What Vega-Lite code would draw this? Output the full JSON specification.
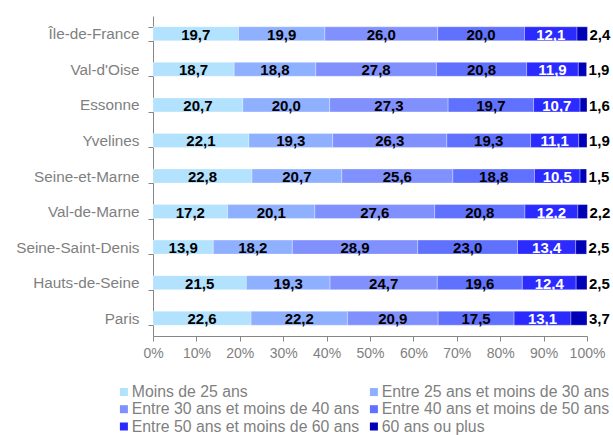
{
  "$schema": "https://vega.github.io/schema/vega-lite/v6.json",
  "width": 434,
  "height": 320,
  "autosize": "none",
  "padding": {"left": 153, "top": 16, "right": 26, "bottom": 99},
  "background": "white",
  "config": {
    "view": {"stroke": null},
    "font": "Liberation Sans",
    "locale": {"number": {"decimal": ",", "thousands": " ", "grouping": [3], "currency": ["", " €"]}}
  },
  "data": {
    "values": [
      {"r": "Île-de-France", "a": "Moins de 25 ans", "k": 1, "v": 19.7},
      {"r": "Île-de-France", "a": "Entre 25 ans et moins de 30 ans", "k": 2, "v": 19.9},
      {"r": "Île-de-France", "a": "Entre 30 ans et moins de 40 ans", "k": 3, "v": 26.0},
      {"r": "Île-de-France", "a": "Entre 40 ans et moins de 50 ans", "k": 4, "v": 20.0},
      {"r": "Île-de-France", "a": "Entre 50 ans et moins de 60 ans", "k": 5, "v": 12.1},
      {"r": "Île-de-France", "a": "60 ans ou plus", "k": 6, "v": 2.4},
      {"r": "Val-d'Oise", "a": "Moins de 25 ans", "k": 1, "v": 18.7},
      {"r": "Val-d'Oise", "a": "Entre 25 ans et moins de 30 ans", "k": 2, "v": 18.8},
      {"r": "Val-d'Oise", "a": "Entre 30 ans et moins de 40 ans", "k": 3, "v": 27.8},
      {"r": "Val-d'Oise", "a": "Entre 40 ans et moins de 50 ans", "k": 4, "v": 20.8},
      {"r": "Val-d'Oise", "a": "Entre 50 ans et moins de 60 ans", "k": 5, "v": 11.9},
      {"r": "Val-d'Oise", "a": "60 ans ou plus", "k": 6, "v": 1.9},
      {"r": "Essonne", "a": "Moins de 25 ans", "k": 1, "v": 20.7},
      {"r": "Essonne", "a": "Entre 25 ans et moins de 30 ans", "k": 2, "v": 20.0},
      {"r": "Essonne", "a": "Entre 30 ans et moins de 40 ans", "k": 3, "v": 27.3},
      {"r": "Essonne", "a": "Entre 40 ans et moins de 50 ans", "k": 4, "v": 19.7},
      {"r": "Essonne", "a": "Entre 50 ans et moins de 60 ans", "k": 5, "v": 10.7},
      {"r": "Essonne", "a": "60 ans ou plus", "k": 6, "v": 1.6},
      {"r": "Yvelines", "a": "Moins de 25 ans", "k": 1, "v": 22.1},
      {"r": "Yvelines", "a": "Entre 25 ans et moins de 30 ans", "k": 2, "v": 19.3},
      {"r": "Yvelines", "a": "Entre 30 ans et moins de 40 ans", "k": 3, "v": 26.3},
      {"r": "Yvelines", "a": "Entre 40 ans et moins de 50 ans", "k": 4, "v": 19.3},
      {"r": "Yvelines", "a": "Entre 50 ans et moins de 60 ans", "k": 5, "v": 11.1},
      {"r": "Yvelines", "a": "60 ans ou plus", "k": 6, "v": 1.9},
      {"r": "Seine-et-Marne", "a": "Moins de 25 ans", "k": 1, "v": 22.8},
      {"r": "Seine-et-Marne", "a": "Entre 25 ans et moins de 30 ans", "k": 2, "v": 20.7},
      {"r": "Seine-et-Marne", "a": "Entre 30 ans et moins de 40 ans", "k": 3, "v": 25.6},
      {"r": "Seine-et-Marne", "a": "Entre 40 ans et moins de 50 ans", "k": 4, "v": 18.8},
      {"r": "Seine-et-Marne", "a": "Entre 50 ans et moins de 60 ans", "k": 5, "v": 10.5},
      {"r": "Seine-et-Marne", "a": "60 ans ou plus", "k": 6, "v": 1.5},
      {"r": "Val-de-Marne", "a": "Moins de 25 ans", "k": 1, "v": 17.2},
      {"r": "Val-de-Marne", "a": "Entre 25 ans et moins de 30 ans", "k": 2, "v": 20.1},
      {"r": "Val-de-Marne", "a": "Entre 30 ans et moins de 40 ans", "k": 3, "v": 27.6},
      {"r": "Val-de-Marne", "a": "Entre 40 ans et moins de 50 ans", "k": 4, "v": 20.8},
      {"r": "Val-de-Marne", "a": "Entre 50 ans et moins de 60 ans", "k": 5, "v": 12.2},
      {"r": "Val-de-Marne", "a": "60 ans ou plus", "k": 6, "v": 2.2},
      {"r": "Seine-Saint-Denis", "a": "Moins de 25 ans", "k": 1, "v": 13.9},
      {"r": "Seine-Saint-Denis", "a": "Entre 25 ans et moins de 30 ans", "k": 2, "v": 18.2},
      {"r": "Seine-Saint-Denis", "a": "Entre 30 ans et moins de 40 ans", "k": 3, "v": 28.9},
      {"r": "Seine-Saint-Denis", "a": "Entre 40 ans et moins de 50 ans", "k": 4, "v": 23.0},
      {"r": "Seine-Saint-Denis", "a": "Entre 50 ans et moins de 60 ans", "k": 5, "v": 13.4},
      {"r": "Seine-Saint-Denis", "a": "60 ans ou plus", "k": 6, "v": 2.5},
      {"r": "Hauts-de-Seine", "a": "Moins de 25 ans", "k": 1, "v": 21.5},
      {"r": "Hauts-de-Seine", "a": "Entre 25 ans et moins de 30 ans", "k": 2, "v": 19.3},
      {"r": "Hauts-de-Seine", "a": "Entre 30 ans et moins de 40 ans", "k": 3, "v": 24.7},
      {"r": "Hauts-de-Seine", "a": "Entre 40 ans et moins de 50 ans", "k": 4, "v": 19.6},
      {"r": "Hauts-de-Seine", "a": "Entre 50 ans et moins de 60 ans", "k": 5, "v": 12.4},
      {"r": "Hauts-de-Seine", "a": "60 ans ou plus", "k": 6, "v": 2.5},
      {"r": "Paris", "a": "Moins de 25 ans", "k": 1, "v": 22.6},
      {"r": "Paris", "a": "Entre 25 ans et moins de 30 ans", "k": 2, "v": 22.2},
      {"r": "Paris", "a": "Entre 30 ans et moins de 40 ans", "k": 3, "v": 20.9},
      {"r": "Paris", "a": "Entre 40 ans et moins de 50 ans", "k": 4, "v": 17.5},
      {"r": "Paris", "a": "Entre 50 ans et moins de 60 ans", "k": 5, "v": 13.1},
      {"r": "Paris", "a": "60 ans ou plus", "k": 6, "v": 3.7}
    ]
  },
  "encoding": {
    "y": {
      "field": "r",
      "type": "nominal",
      "sort": null,
      "scale": {"paddingInner": 0.607, "paddingOuter": 0.3035},
      "axis": {
        "title": null,
        "tickBand": "extent",
        "domainColor": "#868686",
        "tickColor": "#868686",
        "tickSize": 5,
        "labelPadding": 9,
        "labelFontSize": 15.3,
        "labelColor": "#7f7f7f",
        "labelFont": "Liberation Sans"
      }
    },
    "x": {
      "field": "v",
      "type": "quantitative",
      "stack": "zero",
      "scale": {"domain": [0, 100], "nice": false, "clamp": false},
      "axis": {
        "title": null,
        "values": [0, 10, 20, 30, 40, 50, 60, 70, 80, 90, 100],
        "labelExpr": "datum.value + '%'",
        "labelOverlap": false,
        "labelFlush": false,
        "grid": false,
        "domainColor": "#868686",
        "tickColor": "#868686",
        "tickSize": 5,
        "labelPadding": 5,
        "labelFontSize": 14,
        "labelColor": "#7f7f7f",
        "labelFont": "Liberation Sans"
      }
    },
    "order": {"field": "k", "type": "quantitative"}
  },
  "layer": [
    {
      "mark": {"type": "bar", "stroke": "white", "strokeWidth": 0.6, "strokeOpacity": 0.5},
      "encoding": {
        "color": {
          "field": "a",
          "type": "nominal",
          "sort": null,
          "scale": {
            "domain": ["Moins de 25 ans", "Entre 30 ans et moins de 40 ans", "Entre 50 ans et moins de 60 ans", "Entre 25 ans et moins de 30 ans", "Entre 40 ans et moins de 50 ans", "60 ans ou plus"],
            "range": ["#b2e2fd", "#8091fd", "#2b2bff", "#8fb0fe", "#6071fe", "#0000b6"]
          },
          "legend": {
            "title": null,
            "orient": "none",
            "legendX": -37,
            "legendY": 368,
            "columns": 2,
            "columnPadding": 6,
            "rowPadding": 0.3,
            "symbolType": "square",
            "symbolSize": 64,
            "symbolStrokeWidth": 0,
            "symbolOffset": 0,
            "labelOffset": 0,
            "labelFontSize": 15.8,
            "labelColor": "#7f7f7f",
            "labelFont": "Liberation Sans",
            "labelLimit": 400
          }
        }
      }
    },
    {
      "mark": {"type": "text", "fontWeight": "bold", "fontSize": 15, "font": "Liberation Sans", "baseline": "middle", "dy": 1},
      "encoding": {
        "x": {"field": "v", "type": "quantitative", "stack": "zero", "bandPosition": 0.5},
        "detail": {"field": "a"},
        "text": {
          "condition": {"test": "datum.a === '60 ans ou plus'", "value": ""},
          "field": "v",
          "type": "quantitative",
          "format": ".1f"
        },
        "color": {
          "condition": {"test": "datum.a === 'Entre 50 ans et moins de 60 ans'", "value": "white"},
          "value": "black"
        }
      }
    },
    {
      "mark": {"type": "text", "fontWeight": "bold", "fontSize": 15, "font": "Liberation Sans", "baseline": "middle", "align": "left", "dx": 2, "dy": 1, "color": "black"},
      "encoding": {
        "detail": {"field": "a"},
        "text": {
          "condition": {"test": "datum.a !== '60 ans ou plus'", "value": ""},
          "field": "v",
          "type": "quantitative",
          "format": ".1f"
        }
      }
    }
  ]
}
